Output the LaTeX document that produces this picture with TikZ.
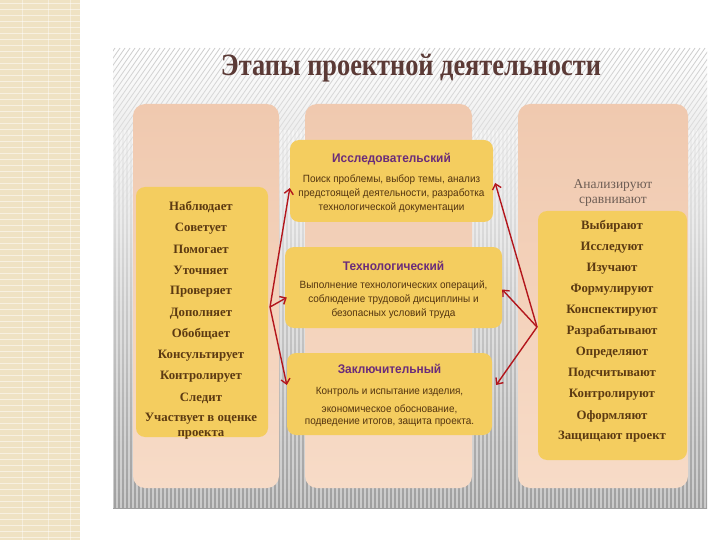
\documentclass[tikz,border=0pt]{standalone}
\usepackage{fontspec}
\setmainfont{Liberation Serif}
\setsansfont{Liberation Sans}
\newfontfamily\narrowsans[FakeStretch=0.95]{Liberation Sans}
\newfontfamily\narrowserif[FakeStretch=0.85]{Liberation Serif}
\usetikzlibrary{arrows.meta,fadings}
\definecolor{tanbox}{HTML}{F0C9AF}
\definecolor{tanlow}{HTML}{F7DBC7}
\definecolor{gold}{HTML}{F4CD5F}
\definecolor{wordbrown}{HTML}{5C3A12}
\definecolor{stagepurple}{HTML}{6A2C7A}
\definecolor{titlebrown}{HTML}{5B3A36}
\definecolor{arrowred}{HTML}{B3161C}
\definecolor{stripbeige}{HTML}{EFE2C3}
\definecolor{greyrow}{HTML}{6E5E55}
\newcommand\stagehead{\color{stagepurple}\bfseries\fontsize{12.5}{14}\selectfont}
\begin{document}
\begin{tikzpicture}[x=1pt,y=-1pt,
  column/.style={rounded corners=12pt,top color=tanbox,bottom color=tanlow},
  goldbox/.style={fill=gold,rounded corners=9pt,inner sep=0pt},
  word/.style={text=wordbrown,font=\bfseries\fontsize{12.8}{15}\selectfont,align=center},
  stagetext/.style={align=center,text=wordbrown!90!black,font=\narrowsans\fontsize{10.5}{14}\selectfont},
  link/.style={draw=arrowred,line width=1.4pt,-{Straight Barb[length=5pt,width=9pt]}}]
\useasboundingbox (0,0) rectangle (720,540);
\fill[white] (0,0) rectangle (720,540);
\fill[stripbeige] (0,0) rectangle (80,540);
\foreach \y in {3,9,...,540} \draw[white,opacity=.5,line width=.8pt] (0,\y) -- (80,\y);
\foreach \x in {22,48,70} \draw[white,opacity=.4] (\x,0) -- (\x,540);
\shade[top color=white,middle color=gray!30,bottom color=gray!75] (113,48) rectangle (707,508);
\begin{scope}
\clip (113,48) rectangle (707,508);
\foreach \x in {113,117,...,707} \draw[white,opacity=.45,line width=1.5pt] (\x,130) -- (\x,508);
\foreach \x in {-60,-55,...,720} \draw[gray!40,line width=.8pt,path fading=south] (\x,220) -- (\x+120,48);
\end{scope}
\shade[column] (133,104) rectangle (279,488);
\shade[column] (305,104) rectangle (472,488);
\shade[column] (518,104) rectangle (688,488);
\node[font=\narrowserif\bfseries\fontsize{31}{33}\selectfont,text=titlebrown] (title) at (411,68) {Этапы проектной деятельности};
\node[goldbox,minimum width=132pt,minimum height=250pt] (teacher) at (202,312) {};
\foreach \w [count=\i] in {Наблюдает,Советует,Помогает,Уточняет,Проверяет,Дополняет,Обобщает,Консультирует,Контролирует,Следит}
  \node[word] (t\i) at (201,186+21.2*\i) {\w};
\node[word] (t11) at (201,426) {Участвует в оценке\\проекта};
\node[text=greyrow,align=center,font=\fontsize{13.5}{15}\selectfont] (pupilhead) at (613,193) {Анализируют\\сравнивают};
\node[goldbox,minimum width=149pt,minimum height=249pt] (pupils) at (612.5,335.5) {};
\foreach \w [count=\i] in {Выбирают,Исследуют,Изучают,Формулируют,Конспектируют,Разрабатывают,Определяют,Подсчитывают,Контролируют,Оформляют,Защищают проект}
  \node[word] (p\i) at (612,205+21.1*\i) {\w};
\node[goldbox,minimum width=203pt,minimum height=82pt] (s1) at (391.5,181) {};
\node[goldbox,minimum width=217pt,minimum height=81pt] (s2) at (393.5,287.5) {};
\node[goldbox,minimum width=205pt,minimum height=82pt] (s3) at (389.5,394) {};
\node[stagetext] (s1text) at ([yshift=-2pt]s1.center) {{\stagehead Исследовательский}\\[6pt]Поиск проблемы, выбор темы, анализ\\предстоящей деятельности, разработка\\технологической документации};
\node[stagetext] (s2text) at ([yshift=-2pt]s2.center) {{\stagehead Технологический}\\[4pt]Выполнение технологических операций,\\соблюдение трудовой дисциплины и\\безопасных условий труда};
\node[stagetext] (s3text) at ([yshift=-1pt]s3.center) {{\stagehead Заключительный}\\[7pt]Контроль и испытание изделия,\\[4pt]экономическое обоснование,\\[-2pt]подведение итогов, защита проекта.};
\coordinate (lhub) at (270,307);
\coordinate (rhub) at (537,327);
\draw[link] (lhub) -- ([yshift=-7pt]s1.west);
\draw[link] (lhub) -- ([xshift=2pt,yshift=-10pt]s2.west);
\draw[link] (lhub) -- ([yshift=9pt]s3.west);
\draw[link] (rhub) -- ([xshift=2pt,yshift=-2pt]s1.east);
\draw[link] (rhub) -- ([yshift=-2pt]s2.east);
\draw[link] (rhub) -- ([xshift=4pt,yshift=9pt]s3.east);
\end{tikzpicture}
\end{document}
